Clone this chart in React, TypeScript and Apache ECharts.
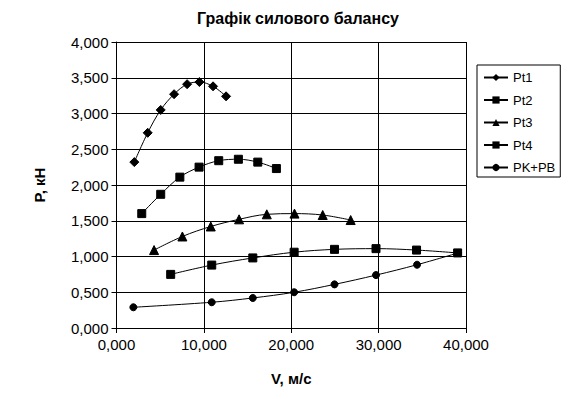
import React, { useEffect, useRef } from "react";
import * as echarts from "echarts";

const pt1X = [2.04, 3.57, 5.06, 6.59, 8.08, 9.49, 11.05, 12.54];
const pt1Y = [2.32, 2.73, 3.05, 3.27, 3.41, 3.44, 3.38, 3.24];

const pt2X = [2.89, 5.06, 7.25, 9.45, 11.7, 13.95, 16.17, 18.3];
const pt2Y = [1.6, 1.87, 2.11, 2.25, 2.34, 2.36, 2.32, 2.23];

const pt3X = [4.3, 7.54, 10.79, 14.03, 17.2, 20.37, 23.6, 26.8];
const pt3Y = [1.09, 1.28, 1.42, 1.52, 1.59, 1.6, 1.58, 1.51];

const pt4X = [6.2, 10.9, 15.6, 20.33, 24.95, 29.7, 34.34, 39.04];
const pt4Y = [0.75, 0.88, 0.98, 1.06, 1.1, 1.11, 1.09, 1.05];

const pkX = [1.93, 10.9, 15.6, 20.33, 24.95, 29.7, 34.4, 39.1];
const pkY = [0.29, 0.36, 0.42, 0.5, 0.61, 0.74, 0.885, 1.05];

const seriesNames = ["Pt1", "Pt2", "Pt3", "Pt4", "PK+PB"];
const seriesSymbols = ["diamond", "rect", "triangle", "rect", "circle"];
const seriesSymbolSizes = [9, 8, 9, 8, 7];

const title = "Графік силового балансу";
const xName = "V, м/с";
const yName = "P, кН";

const fmt = (v: number) => v.toFixed(3).replace(".", ",");

export default function App() {
  const ref = useRef<HTMLDivElement>(null);
  useEffect(() => {
    if (!ref.current) return;
    const chart = echarts.init(ref.current, undefined, { renderer: "svg" });
    const xs = [pt1X, pt2X, pt3X, pt4X, pkX];
    const ys = [pt1Y, pt2Y, pt3Y, pt4Y, pkY];
    const font = "Arial, 'Liberation Sans', sans-serif";
    chart.setOption({
      animation: false,
      backgroundColor: "#ffffff",
      title: {
        text: title,
        left: 293,
        textAlign: "center",
        top: 5,
        textStyle: { fontFamily: font, fontSize: 16, fontWeight: "bold", color: "#000" },
      },
      legend: {
        orient: "vertical",
        left: 477,
        top: 65,
        padding: [5, 5, 2, 6],
        itemGap: 7.5,
        itemWidth: 24,
        itemHeight: 9,
        borderColor: "#000",
        borderWidth: 1,
        textStyle: { fontFamily: font, fontSize: 13, color: "#000", lineHeight: 15 },
        data: seriesNames,
      },
      grid: { left: 116.5, right: 121, top: 42, bottom: 71, containLabel: false },
      xAxis: {
        type: "value",
        min: 0,
        max: 40,
        interval: 10,
        name: xName,
        nameLocation: "middle",
        nameGap: 43,
        nameTextStyle: { fontFamily: font, fontSize: 15, fontWeight: "bold", color: "#000" },
        axisLine: { show: true, lineStyle: { color: "#000", width: 1 } },
        axisTick: { show: true, length: 5, lineStyle: { color: "#000" } },
        axisLabel: { formatter: fmt, fontFamily: font, fontSize: 15, color: "#000", margin: 9 },
        splitLine: { show: true, lineStyle: { color: "#000", width: 1 } },
      },
      yAxis: {
        type: "value",
        min: 0,
        max: 4,
        interval: 0.5,
        name: yName,
        nameLocation: "middle",
        nameRotate: 90,
        nameGap: 70,
        nameTextStyle: { fontFamily: font, fontSize: 15, fontWeight: "bold", color: "#000" },
        axisLine: { show: true, lineStyle: { color: "#000", width: 1 } },
        axisTick: { show: true, length: 5, lineStyle: { color: "#000" } },
        axisLabel: { formatter: fmt, fontFamily: font, fontSize: 15, color: "#000", margin: 8 },
        splitLine: { show: true, lineStyle: { color: "#000", width: 1 } },
      },
      series: seriesNames.map((name, i) => ({
        name,
        type: "line",
        smooth: 0.35,
        symbol: seriesSymbols[i],
        symbolSize: seriesSymbolSizes[i],
        showAllSymbol: true,
        data: xs[i].map((x, j) => [x, ys[i][j]]),
        lineStyle: { color: "#000", width: 1 },
        itemStyle: { color: "#000", borderColor: "#000" },
        emphasis: { disabled: true },
      })),
    });
    return () => chart.dispose();
  }, []);
  return (
    <div
      ref={ref}
      style={{ position: "fixed", left: 0, top: 0, width: 587, height: 399, background: "#fff" }}
    />
  );
}
